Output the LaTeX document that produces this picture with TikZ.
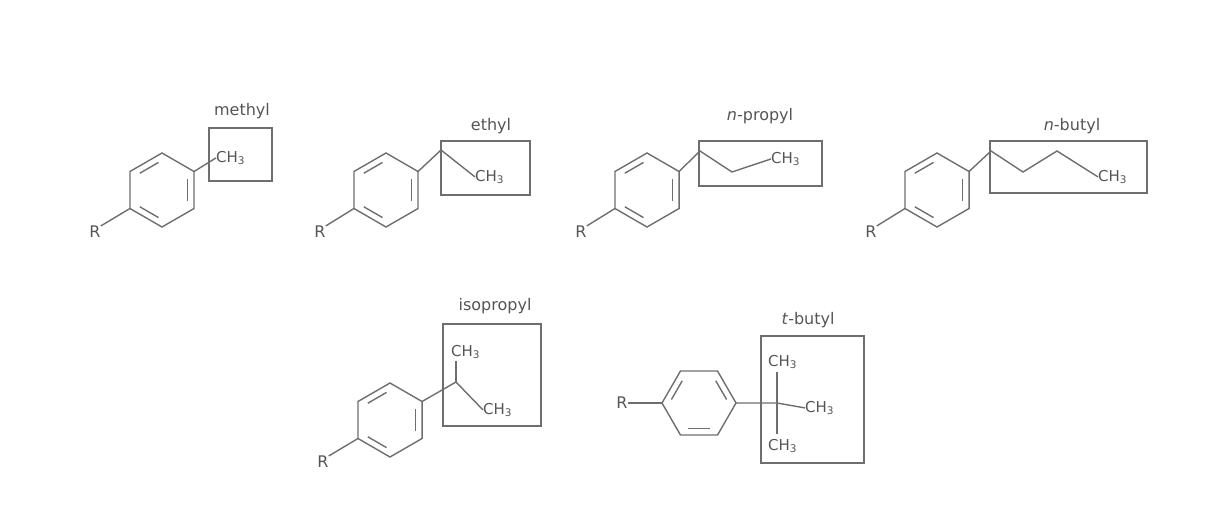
\documentclass[tikz,border=0pt]{standalone}
\usepackage{fontspec}
\setmainfont{DejaVu Sans}
\usetikzlibrary{calc}
\definecolor{bond}{RGB}{110,110,110}
\definecolor{txt}{RGB}{85,85,85}
\tikzset{
  bondline/.style={draw=bond,line width=1.4pt},
  boxline/.style={draw=bond,line width=1.2pt},
  lab/.style={text=txt,font=\fontsize{16}{18}\selectfont,inner sep=0pt},
  grp/.style={text=txt,font=\fontsize{15}{17}\selectfont,inner sep=0pt,anchor=base west},
}
\newcommand\CHt{CH\textsubscript{3}}
% #1 name, #2 center, #3 rotation offset
\newcommand\benzring[3]{%
  \foreach \k in {0,...,5}{\coordinate (#1v\k) at ($(#2)+({#3+60*\k}:37)$);}
  \draw[bondline] (#1v0)--(#1v1)--(#1v2)--(#1v3)--(#1v4)--(#1v5)--cycle;
  \foreach \a/\b in {1/2,3/4,5/0}{
    \draw[bondline,shorten <=4pt,shorten >=4pt] ($(#2)!0.8!(#1v\a)$)--($(#2)!0.8!(#1v\b)$);}
}
\begin{document}
\begin{tikzpicture}[x=1pt,y=-1pt]
\useasboundingbox (0,0) rectangle (1214,508);
% methyl
\coordinate (c1) at (162,190);
\benzring{m}{c1}{30}
\node[lab] (R1) at (95,232) {R};
\draw[bondline] (mv2)--(R1.north east);
\node[grp] (g1) at (216,162) {\CHt};
\draw[bondline] (mv5)--(g1.west);
\draw[boxline] (209,128) rectangle (272,181);
\node[lab] (l1) at (242,111) {methyl};
% ethyl
\coordinate (c2) at (386,190);
\benzring{e}{c2}{30}
\node[lab] (R2) at (320,232) {R};
\draw[bondline] (ev2)--(R2.north east);
\coordinate (e1) at (441,150);
\node[grp] (g2) at (475,181) {\CHt};
\draw[bondline] (ev5)--(e1)--(g2.west);
\draw[boxline] (441,141) rectangle (530,195);
\node[lab] (l2) at (491,126) {ethyl};
% n-propyl
\coordinate (c3) at (647,190);
\benzring{p}{c3}{30}
\node[lab] (R3) at (581,232) {R};
\draw[bondline] (pv2)--(R3.north east);
\coordinate (p1) at (700,151);
\coordinate (p2) at (732,172);
\node[grp] (g3) at (771,163) {\CHt};
\draw[bondline] (pv5)--(p1)--(p2)--(g3.west);
\draw[boxline] (699,141) rectangle (822,186);
\node[lab] (l3) at (760,116) {\textit{n}-propyl};
% n-butyl
\coordinate (c4) at (937,190);
\benzring{b}{c4}{30}
\node[lab] (R4) at (871,232) {R};
\draw[bondline] (bv2)--(R4.north east);
\coordinate (b1) at (991,151);
\coordinate (b2) at (1023,172);
\coordinate (b3) at (1057,151);
\node[grp] (g4) at (1098,181) {\CHt};
\draw[bondline] (bv5)--(b1)--(b2)--(b3)--(g4.west);
\draw[boxline] (990,141) rectangle (1147,193);
\node[lab] (l4) at (1072,126) {\textit{n}-butyl};
% isopropyl
\coordinate (c5) at (390,420);
\benzring{i}{c5}{30}
\node[lab] (R5) at (323,462) {R};
\draw[bondline] (iv2)--(R5.north east);
\coordinate (i1) at (456,382);
\node[grp] (g5a) at (451,356) {\CHt};
\node[grp] (g5b) at (483,414) {\CHt};
\draw[bondline] (iv5)--(i1)--(g5b.west);
\draw[bondline] (i1)--(456,361);
\draw[boxline] (443,324) rectangle (541,426);
\node[lab] (l5) at (495,306) {isopropyl};
% t-butyl
\coordinate (c6) at (699,403);
\benzring{t}{c6}{0}
\node[lab] (R6) at (622,403) {R};
\draw[bondline] (R6.east)--(tv3);
\coordinate (t1) at (777,403);
\node[grp] (g6a) at (768,366) {\CHt};
\node[grp] (g6b) at (805,412) {\CHt};
\node[grp] (g6c) at (768,450) {\CHt};
\draw[bondline] (tv0)--(t1)--(g6b.west);
\draw[bondline] (777,372)--(777,434);
\draw[boxline] (761,336) rectangle (864,463);
\node[lab] (l6) at (808,320) {\textit{t}-butyl};
\end{tikzpicture}
\end{document}
